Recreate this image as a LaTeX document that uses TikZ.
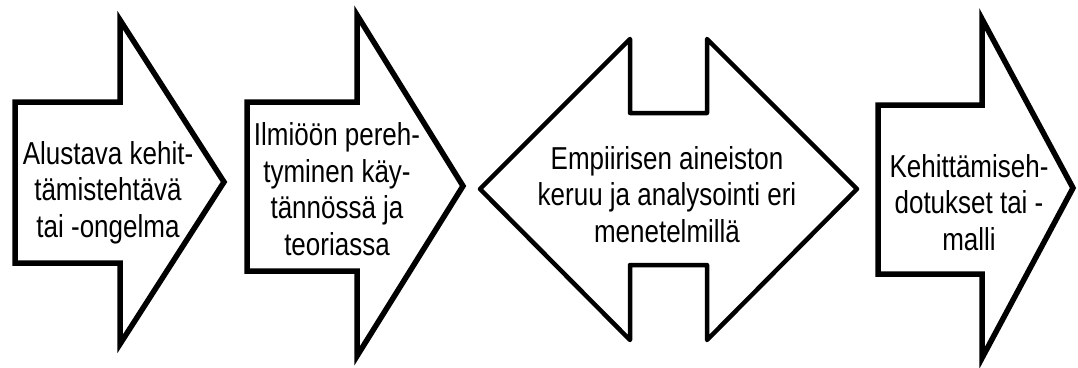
\documentclass[tikz,border=0pt]{standalone}
\usepackage{fontspec}
\setmainfont{Liberation Sans}
\newfontfamily\lblfont[FakeStretch=0.82]{Liberation Sans}
\begin{document}
\begin{tikzpicture}[x=1pt,y=-1pt,
  shp/.style={draw=black, line width=5.5pt, fill=white, line join=miter},
  shpr/.style={draw=black, line width=4.5pt, fill=white, line join=round},
  lbl/.style={align=center, font=\lblfont\fontsize{31.7}{36.5}\selectfont, inner sep=0pt, anchor=base}]
\useasboundingbox (0,0) rectangle (1078,367);
% arrow 1
\draw[shp] (15,102) -- (120,102) -- (120,20) -- (224,182) -- (120,344) -- (120,263) -- (15,263) -- cycle;
% arrow 2
\draw[shp] (247,102) -- (357,102) -- (357,15) -- (463,186) -- (357,356) -- (357,271) -- (247,271) -- cycle;
% arrow 3 (double)
\draw[shpr] (480,189) -- (630,39) -- (630,113) -- (707,113) -- (707,39) -- (857,189) -- (707,340) -- (707,265) -- (630,265) -- (630,340) -- cycle;
% arrow 4
\draw[shp] (878,105) -- (982,105) -- (982,19) -- (1073,188) -- (982,358) -- (982,274) -- (878,274) -- cycle;
% labels (anchored at the baseline of the last line)
\node[lbl] (t1) at (108,237) {Alustava kehit-\\tämistehtävä\\tai -ongelma};
\node[lbl] (t2) at (337,255) {Ilmiöön pereh-\\tyminen käy-\\tännössä ja\\teoriassa};
\node[lbl] (t3) at (667,242) {Empiirisen aineiston\\keruu ja analysointi eri\\menetelmillä};
\node[lbl] (t4) at (969,250) {Kehittämiseh-\\dotukset tai -\\malli};
\end{tikzpicture}
\end{document}
